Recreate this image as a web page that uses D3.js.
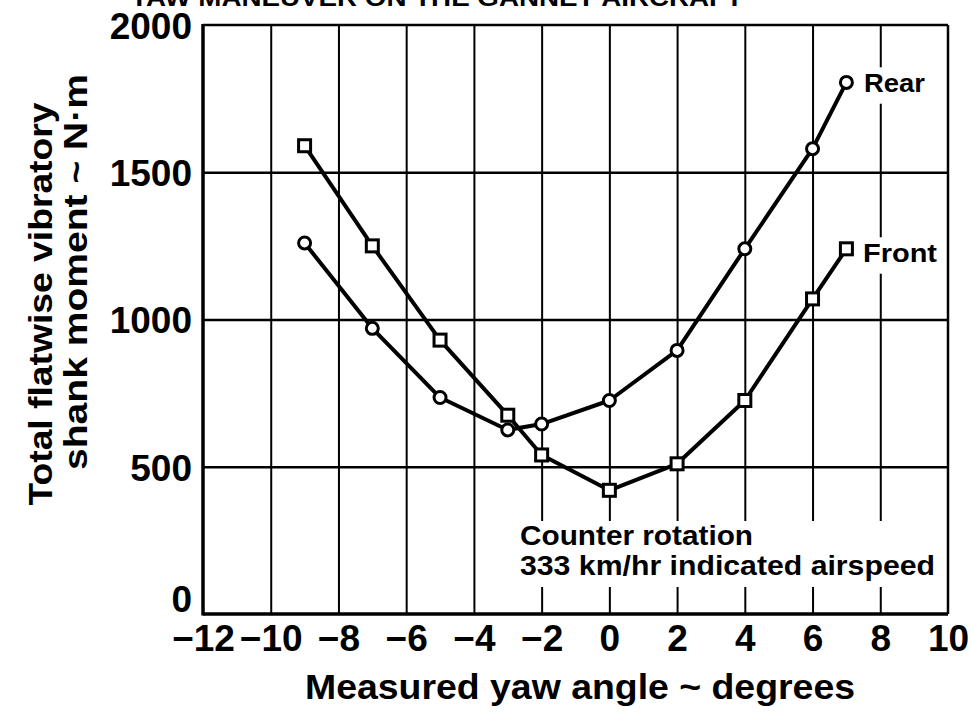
<!DOCTYPE html>
<html>
<head>
<meta charset="utf-8">
<script src="https://cdn.jsdelivr.net/npm/d3@7"></script>
<style>
  html, body { margin: 0; padding: 0; background: #fff; }
  svg { display: block; }
  text { font-family: "Liberation Sans", Arial, Helvetica, sans-serif; font-weight: bold; fill: #000; }
</style>
</head>
<body>
<svg id="chart" width="971" height="716"></svg>
<script>
// Yaw angle (degrees) at which shank moments were measured
const yawAngles = [-9, -7, -5, -3, -2, 0, 2, 4, 6, 7];
// Total flatwise vibratory shank moment, N·m
const frontMoment = [1590, 1250, 930, 675, 540, 420, 510, 725, 1070, 1240];
const rearMoment  = [1260, 970, 735, 625, 645, 725, 895, 1240, 1580, 1805];

const xTickValues = [-12, -10, -8, -6, -4, -2, 0, 2, 4, 6, 8, 10];
const yTickValues = [0, 500, 1000, 1500, 2000];

const svg = d3.select("#chart");
const plotLeft = 203, plotRight = 948, plotTop = 25, plotBottom = 614;

const x = d3.scaleLinear().domain([-12, 10]).range([plotLeft, plotRight]);
const y = d3.scaleLinear().domain([0, 2000]).range([plotBottom, plotTop]);

// Title (partly above the page edge)
svg.append("text")
  .attr("x", 130).attr("y", 6)
  .attr("font-size", 24)
  .attr("textLength", 613).attr("lengthAdjust", "spacingAndGlyphs")
  .text("YAW MANEUVER ON THE GANNET AIRCRAFT");

// Grid lines
const grid = svg.append("g");
grid.append("g")
  .attr("transform", `translate(0,${plotBottom})`)
  .call(d3.axisBottom(x).tickValues(xTickValues.slice(1, -1)).tickSize(-(plotBottom - plotTop)).tickFormat(""))
  .call(g => g.select(".domain").remove())
  .call(g => g.selectAll("line").attr("stroke", "#000").attr("stroke-width", 2));
grid.append("g")
  .attr("transform", `translate(${plotLeft},0)`)
  .call(d3.axisLeft(y).tickValues(yTickValues.slice(1, -1)).tickSize(-(plotRight - plotLeft)).tickFormat(""))
  .call(g => g.select(".domain").remove())
  .call(g => g.selectAll("line").attr("stroke", "#000").attr("stroke-width", 2.5));

// Frame
svg.append("line").attr("x1", x(-12)).attr("x2", x(10)).attr("y1", y(2000)).attr("y2", y(2000))
  .attr("stroke", "#000").attr("stroke-width", 2.5);
svg.append("line").attr("x1", x(10)).attr("x2", x(10)).attr("y1", y(2000)).attr("y2", y(0))
  .attr("stroke", "#000").attr("stroke-width", 2.5);
svg.append("line").attr("x1", x(-12)).attr("x2", x(10)).attr("y1", y(0)).attr("y2", y(0))
  .attr("stroke", "#000").attr("stroke-width", 3.5);
svg.append("line").attr("x1", x(-12)).attr("x2", x(-12)).attr("y1", y(2000) - 1).attr("y2", y(0) + 1.5)
  .attr("stroke", "#000").attr("stroke-width", 3.5);

// Tick labels
svg.append("g")
  .attr("transform", `translate(${plotLeft - 11},0)`)
  .call(d3.axisLeft(y).tickValues(yTickValues).tickSize(0).tickPadding(0).tickFormat(d3.format("d")))
  .call(g => g.select(".domain").remove())
  .call(g => g.selectAll("text")
    .attr("font-family", '"Liberation Sans", Arial, sans-serif')
    .attr("font-weight", "bold").attr("font-size", 37).attr("fill", "#000")
    .attr("dy", d => d === 0 ? "-0.06em" : "0.36em"));

svg.append("g")
  .attr("transform", `translate(0,${plotBottom})`)
  .call(d3.axisBottom(x).tickValues(xTickValues).tickSize(0).tickPadding(0).tickFormat(d3.format("d")))
  .call(g => g.select(".domain").remove())
  .call(g => g.selectAll("text")
    .attr("font-family", '"Liberation Sans", Arial, sans-serif')
    .attr("font-weight", "bold").attr("font-size", 37).attr("fill", "#000")
    .attr("y", 37).attr("dy", 0));

// Axis titles
svg.append("text")
  .attr("x", 580).attr("y", 699)
  .attr("text-anchor", "middle")
  .attr("font-size", 35)
  .attr("textLength", 550).attr("lengthAdjust", "spacingAndGlyphs")
  .text("Measured yaw angle ~ degrees");

svg.append("text")
  .attr("transform", "translate(52,304) rotate(-90)")
  .attr("text-anchor", "middle")
  .attr("font-size", 34)
  .attr("textLength", 403).attr("lengthAdjust", "spacingAndGlyphs")
  .text("Total flatwise vibratory");
svg.append("text")
  .attr("transform", "translate(87,272) rotate(-90)")
  .attr("text-anchor", "middle")
  .attr("font-size", 34)
  .attr("textLength", 396).attr("lengthAdjust", "spacingAndGlyphs")
  .text("shank moment ~ N·m");

// Series
const line = d3.line().x(d => x(d[0])).y(d => y(d[1]));
const frontPts = yawAngles.map((a, i) => [a, frontMoment[i]]);
const rearPts = yawAngles.map((a, i) => [a, rearMoment[i]]);

const plot = svg.append("g");
plot.append("path").datum(rearPts).attr("d", line)
  .attr("fill", "none").attr("stroke", "#000").attr("stroke-width", 4).attr("stroke-linejoin", "round");
plot.append("path").datum(frontPts).attr("d", line)
  .attr("fill", "none").attr("stroke", "#000").attr("stroke-width", 4).attr("stroke-linejoin", "round");

plot.selectAll("rect.front").data(frontPts).join("rect")
  .attr("class", "front")
  .attr("x", d => x(d[0]) - 6).attr("y", d => y(d[1]) - 6)
  .attr("width", 12).attr("height", 12)
  .attr("fill", "#fff").attr("stroke", "#000").attr("stroke-width", 3);
plot.selectAll("circle.rear").data(rearPts).join("circle")
  .attr("class", "rear")
  .attr("cx", d => x(d[0])).attr("cy", d => y(d[1])).attr("r", 6)
  .attr("fill", "#fff").attr("stroke", "#000").attr("stroke-width", 3);

// Labels on a white ground so grid lines break around them
function label(tx, ty, size, len, str, pad) {
  const g = svg.append("g");
  const capH = size * 0.72;
  g.append("rect")
    .attr("x", tx - pad).attr("y", ty - capH - pad)
    .attr("width", len + 2 * pad).attr("height", capH + 2 * pad + size * 0.22)
    .attr("fill", "#fff");
  g.append("text")
    .attr("x", tx).attr("y", ty)
    .attr("font-size", size)
    .attr("textLength", len).attr("lengthAdjust", "spacingAndGlyphs")
    .text(str);
}
label(864, 92, 26, 61, "Rear", 6);
label(863, 262, 26, 74, "Front", 6);

const note = svg.append("g");
note.append("rect").attr("x", 512).attr("y", 521).attr("width", 430).attr("height", 66).attr("fill", "#fff");
note.append("text").attr("x", 520).attr("y", 545).attr("font-size", 27)
  .attr("textLength", 233).attr("lengthAdjust", "spacingAndGlyphs")
  .text("Counter rotation");
note.append("text").attr("x", 520).attr("y", 575).attr("font-size", 27)
  .attr("textLength", 415).attr("lengthAdjust", "spacingAndGlyphs")
  .text("333 km/hr indicated airspeed");
</script>
</body>
</html>
